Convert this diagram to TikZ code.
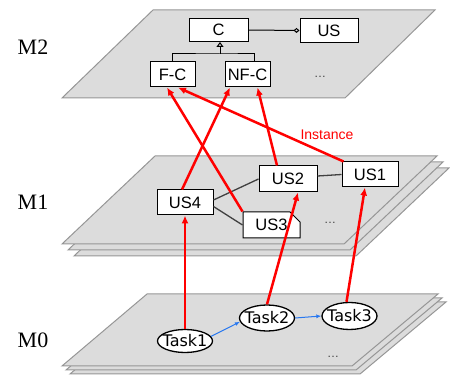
\documentclass[tikz,border=0pt]{standalone}
\usepackage{fontspec}
\setmainfont{Liberation Serif}
\setsansfont{Liberation Sans}
\newfontfamily\taskfont{DejaVu Sans}
\usetikzlibrary{arrows.meta,shapes.geometric,shapes.misc}
\definecolor{planefill}{RGB}{220,220,220}
\definecolor{planeline}{RGB}{150,150,150}
\definecolor{flowblue}{RGB}{40,120,240}
\begin{document}
\begin{tikzpicture}[x=1pt,y=-1pt]
\tikzset{
  plane/.style={fill=planefill,draw=planeline,line width=1pt},
  cls/.style={draw,line width=1pt,fill=white,inner sep=0pt,minimum width=57pt,minimum height=25pt,font=\sffamily\fontsize{16.5}{19}\selectfont},
  task/.style={ellipse,draw,line width=1.3pt,fill=white,inner xsep=-6pt,inner ysep=0pt,minimum width=55pt,minimum height=26pt,font=\taskfont\fontsize{16}{19}\selectfont},
  level/.style={font=\fontsize{22}{25}\selectfont},
  rel/.style={red,line width=2.5pt,-{Latex[length=8pt,width=7pt]}},
  flow/.style={flowblue,line width=1pt,-{Latex[length=5pt,width=4pt]}},
  link/.style={black!75,line width=1.3pt},
  more/.style={font=\sffamily\fontsize{12}{14}\selectfont,black!75}
}
\useasboundingbox (0,0) rectangle (450,379);
% planes
\foreach \d in {8,4,0}
  \draw [plane,shift={(\d,\d)}] (62,366) -- (147,294) -- (438,294) -- (352,366) -- cycle;
\foreach \d in {12,6,0}
  \draw [plane,shift={(\d,\d)}] (62,244) -- (155,156) -- (437,156) -- (344,244) -- cycle;
\draw [plane] (62,98) -- (153,10) -- (435,10) -- (345,98) -- cycle;
\node [level] (lM2) at (33,47) {M2};
\node [level] (lM1) at (33,202) {M1};
\node [level] (lM0) at (33,340) {M0};
% M2
\node [cls,minimum width=59pt,minimum height=23pt] (C) at (218.5,30) {C};
\node [cls,minimum width=58pt,minimum height=24pt] (US) at (329,30.5) {US};
\node [cls,minimum width=45pt] (FC) at (172.5,74.5) {F-C};
\node [cls,minimum width=45pt] (NFC) at (247.5,74.5) {NF-C};
\node [more] (dotsa) at (320,77) {\dots};
\coordinate (CJ) at (220,54);
\draw [line width=1pt] (FC.north) |- (CJ) -| ([xshift=6.5pt]NFC.north);
\draw [line width=1pt,-{Triangle[open,length=5pt,width=7pt]}] (CJ) -- (C.south -| CJ);
\draw [line width=1pt,-{Diamond[open,length=6pt,width=5pt]}] (C.east) -- (US.west);
% M1
\node [cls,minimum width=56pt] (US4) at (185,202.5) {US4};
\node [cls,minimum width=58pt,minimum height=26pt] (US2) at (288,179) {US2};
\node [cls,minimum width=56pt] (US1) at (370,174.5) {US1};
\node [cls,chamfered rectangle,chamfered rectangle corners=north east,chamfered rectangle sep=5pt,minimum height=26pt] (US3) at (271.5,225) {US3};
\node [more] (dotsb) at (330,223) {\dots};
\draw [link] ([yshift=2.5pt]US4.east) -- (US2.west);
\draw [link] ([yshift=-4pt]US4.east) -- (US3.west);
\draw [link] ([yshift=3pt]US2.east) -- (US1.west);
% M0
\node [task,minimum height=23pt] (T1) at (185,341) {Task1};
\node [task] (T2) at (267,318) {Task2};
\node [task,minimum height=27pt] (T3) at (349.5,316) {Task3};
\node [more] (dotsc) at (333,357) {\dots};
\draw [flow] (T1.10) -- (T2.188);
\draw [flow] (T2.east) -- (T3.west);
% instance of
\draw [rel] (T1.north) -- (US4.south);
\draw [rel] (T2.north) -- ([xshift=10pt]US2.south);
\draw [rel] ([xshift=-3pt]T3.north) -- ([xshift=-5pt]US1.south);
\draw [rel] ([xshift=-3pt]US4.north) -- ([xshift=-17.5pt]NFC.south);
\draw [rel] ([xshift=-11pt]US2.north) -- ([xshift=10pt]NFC.south);
\draw [rel] (US3.north west) -- ([xshift=-5.5pt]FC.south);
\draw [rel] ([xshift=2pt]US1.north west) -- ([xshift=5.5pt]FC.south);
\node [red,font=\sffamily\fontsize{14}{16}\selectfont] (inst) at (327,135) {Instance};
\end{tikzpicture}
\end{document}
